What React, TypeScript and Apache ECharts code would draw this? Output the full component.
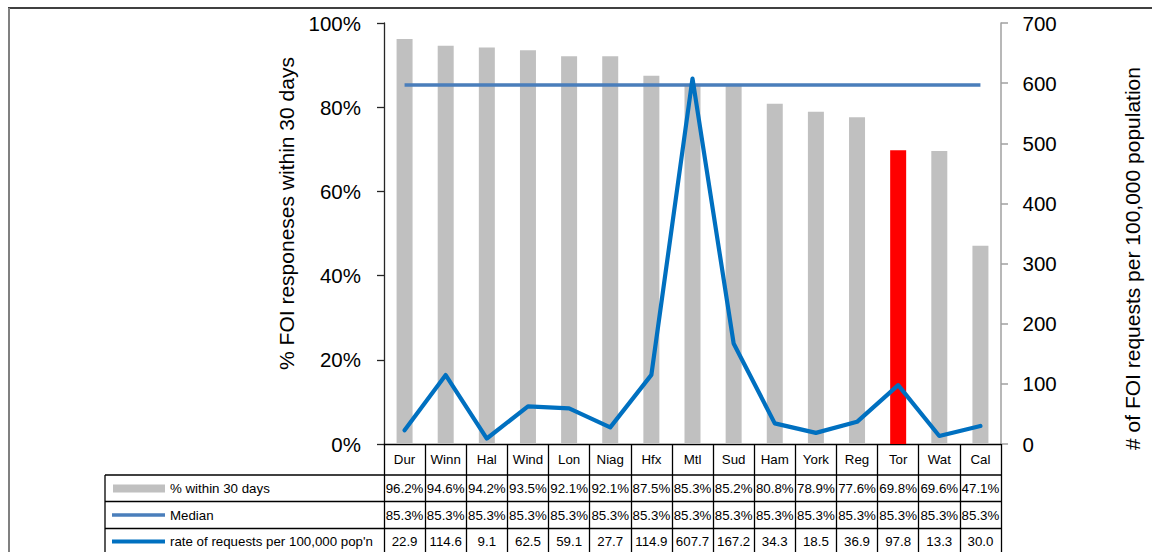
import React, { useEffect, useRef } from "react";
import * as echarts from "echarts";

// Municipalities, in order of share of FOI responses within 30 days
const categories = ["Dur", "Winn", "Hal", "Wind", "Lon", "Niag", "Hfx", "Mtl", "Sud", "Ham", "York", "Reg", "Tor", "Wat", "Cal"];
const pctWithin30 = [96.2, 94.6, 94.2, 93.5, 92.1, 92.1, 87.5, 85.3, 85.2, 80.8, 78.9, 77.6, 69.8, 69.6, 47.1];
const medianPct = [85.3, 85.3, 85.3, 85.3, 85.3, 85.3, 85.3, 85.3, 85.3, 85.3, 85.3, 85.3, 85.3, 85.3, 85.3];
const ratePer100k = [22.9, 114.6, 9.1, 62.5, 59.1, 27.7, 114.9, 607.7, 167.2, 34.3, 18.5, 36.9, 97.8, 13.3, 30.0];
const highlightedCity = "Tor";

const seriesNames = ["% within 30 days", "Median", "rate of requests per 100,000 pop'n"];
const leftAxisTitle = "% FOI responeses within 30 days";
const rightAxisTitle = "# of FOI requests per 100,000 population";

const FONT = "'Liberation Sans', Arial, Helvetica, sans-serif";
const TABLE_FONT_SIZE = 13.3;

// Layout
const WIDTH = 1152;
const HEIGHT = 552;
const PLOT_LEFT = 384;
const PLOT_TOP = 23;
const PLOT_RIGHT = 1001;
const PLOT_BOTTOM = 444;
const TABLE_LEFT = 105;
const ROW_LINES = [475, 501.5, 528.5];

const pctText = (v: number) => v.toFixed(1) + "%";
const rateText = (v: number) => v.toFixed(1);

const tableRows = [
  pctWithin30.map(pctText),
  medianPct.map(pctText),
  ratePer100k.map(rateText),
];
const rowLabelMargins = [38, 64.5, 91];
const legendTops = [482, 508.5, 535];
const legendIconSizes = [
  { left: 113, w: 52, h: 8 },
  { left: 112, w: 53, h: 3.5 },
  { left: 112, w: 53, h: 4 },
];

const barColor = "#C0C0C0";
const highlightColor = "#FF0000";
const medianColor = "#4A7EBB";
const rateColor = "#0070C0";

export default function App() {
  const ref = useRef<HTMLDivElement>(null);

  useEffect(() => {
    if (!ref.current) return;
    const chart = echarts.init(ref.current, undefined, { renderer: "svg" });

    const tableAxes = tableRows.map((row, r) => ({
      type: "category",
      data: categories,
      gridIndex: 0,
      position: "bottom",
      axisLine: { show: false },
      axisTick: { show: false },
      axisLabel: {
        interval: 0,
        margin: rowLabelMargins[r],
        fontSize: TABLE_FONT_SIZE,
        color: "#000",
        fontFamily: FONT,
        formatter: (_v: string, i: number) => row[i],
      },
    }));

    const legends = seriesNames.map((name, k) => ({
      data: [{ name, icon: "rect" }],
      left: legendIconSizes[k].left,
      top: legendTops[k],
      padding: 0,
      itemGap: 0,
      itemWidth: legendIconSizes[k].w,
      itemHeight: legendIconSizes[k].h,
      selectedMode: false,
      itemStyle: { borderWidth: 0 },
      textStyle: { fontSize: TABLE_FONT_SIZE, color: "#000", fontFamily: FONT },
    }));

    const hline = (x1: number, x2: number, y: number) => ({
      type: "line",
      shape: { x1, y1: y, x2, y2: y },
      style: { stroke: "#000", lineWidth: 1.3 },
      silent: true,
    });

    chart.setOption({
      animation: false,
      textStyle: { fontFamily: FONT },
      grid: {
        left: PLOT_LEFT,
        top: PLOT_TOP,
        right: WIDTH - PLOT_RIGHT,
        bottom: HEIGHT - PLOT_BOTTOM,
        containLabel: false,
      },
      legend: legends,
      xAxis: [
        {
          type: "category",
          data: categories,
          position: "bottom",
          axisLine: { lineStyle: { color: "#000", width: 1.3 } },
          axisTick: { show: true, length: HEIGHT - PLOT_BOTTOM, lineStyle: { color: "#000", width: 1.3 } },
          axisLabel: { interval: 0, margin: 9, fontSize: TABLE_FONT_SIZE, color: "#000", fontFamily: FONT },
        },
        ...tableAxes,
      ],
      yAxis: [
        {
          type: "value",
          position: "left",
          min: 0,
          max: 100,
          interval: 20,
          splitLine: { show: false },
          axisLine: { show: true, lineStyle: { color: "#262626", width: 1.3 } },
          axisTick: { show: true, length: 7, lineStyle: { color: "#262626", width: 1.3 } },
          axisLabel: { formatter: "{value}%", fontSize: 20.5, margin: 23, color: "#000", fontFamily: FONT },
          name: leftAxisTitle,
          nameLocation: "middle",
          nameRotate: 90,
          nameGap: 87,
          nameTextStyle: { fontSize: 21, color: "#000", fontFamily: FONT, padding: [0, 0, 0, 40] },
        },
        {
          type: "value",
          position: "right",
          min: 0,
          max: 700,
          interval: 100,
          splitLine: { show: false },
          axisLine: { show: true, lineStyle: { color: "#A0A0A0", width: 1.5 } },
          axisTick: { show: true, length: 7, lineStyle: { color: "#A0A0A0", width: 1.5 } },
          axisLabel: { fontSize: 20.5, margin: 21.5, color: "#000", fontFamily: FONT },
          name: rightAxisTitle,
          nameLocation: "middle",
          nameRotate: 90,
          nameGap: 121,
          nameTextStyle: { fontSize: 21, color: "#000", fontFamily: FONT, padding: [0, 50, 0, 0] },
        },
      ],
      series: [
        {
          name: seriesNames[0],
          type: "bar",
          xAxisIndex: 0,
          yAxisIndex: 0,
          barWidth: 16,
          itemStyle: { color: barColor },
          data: pctWithin30.map((v, i) =>
            categories[i] === highlightedCity ? { value: v, itemStyle: { color: highlightColor } } : v
          ),
          z: 2,
        },
        {
          name: seriesNames[1],
          type: "line",
          xAxisIndex: 0,
          yAxisIndex: 0,
          symbol: "none",
          itemStyle: { color: medianColor },
          lineStyle: { color: medianColor, width: 3.5 },
          data: medianPct,
          z: 3,
        },
        {
          name: seriesNames[2],
          type: "line",
          xAxisIndex: 0,
          yAxisIndex: 1,
          symbol: "none",
          itemStyle: { color: rateColor },
          lineStyle: { color: rateColor, width: 4.2, cap: "round", join: "round" },
          data: ratePer100k,
          z: 4,
        },
      ],
      graphic: [
        // outer frame
        {
          type: "line",
          shape: { x1: 8, y1: 8, x2: WIDTH, y2: 8 },
          style: { stroke: "#000", lineWidth: 1.5 },
          silent: true,
        },
        {
          type: "line",
          shape: { x1: 9, y1: 8, x2: 9, y2: HEIGHT },
          style: { stroke: "#808080", lineWidth: 2 },
          silent: true,
        },
        // data table rules
        ...ROW_LINES.map((y) => hline(TABLE_LEFT, PLOT_RIGHT, y)),
        {
          type: "line",
          shape: { x1: TABLE_LEFT, y1: ROW_LINES[0], x2: TABLE_LEFT, y2: HEIGHT },
          style: { stroke: "#000", lineWidth: 1.3 },
          silent: true,
        },
      ],
    });

    return () => chart.dispose();
  }, []);

  return (
    <div
      ref={ref}
      style={{ position: "absolute", left: 0, top: 0, width: WIDTH, height: HEIGHT, background: "#fff" }}
    />
  );
}
